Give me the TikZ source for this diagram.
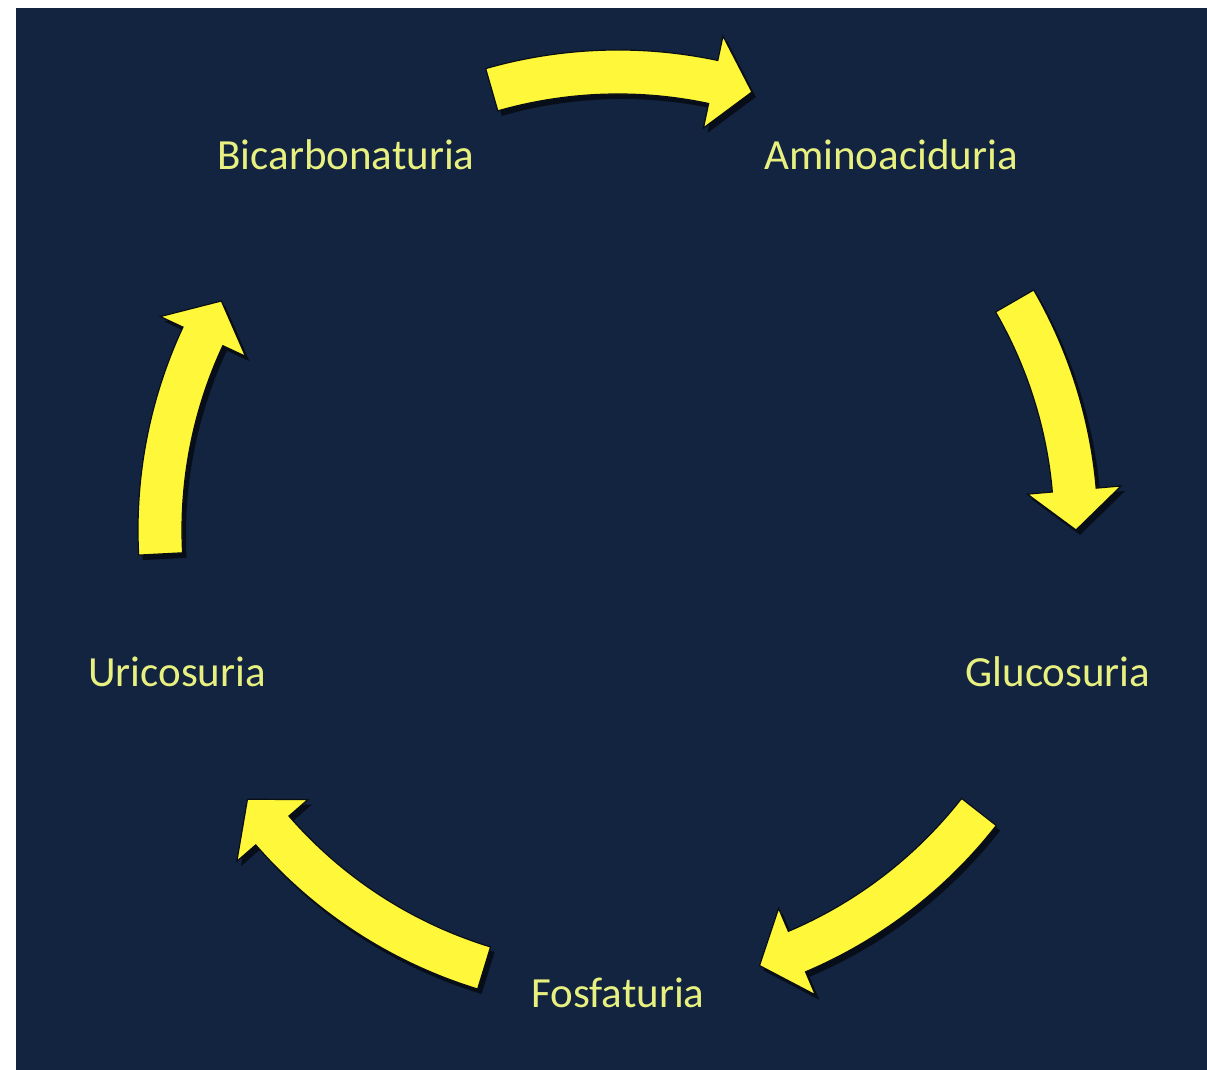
\documentclass[tikz,border=0pt]{standalone}
\usepackage{fontspec}
\setmainfont{Carlito}
\usepackage{tikz}
\usetikzlibrary{calc,shadows}
\definecolor{bgCol}{HTML}{12243F}
\definecolor{arrCol}{HTML}{FFF83A}
\definecolor{arrEdge}{HTML}{0A0E16}
\definecolor{txtCol}{HTML}{E8F080}
\tikzset{
  stage/.style={text=txtCol, font=\fontsize{43}{50}\selectfont, inner sep=0pt, anchor=center},
  cyc/.style={fill=arrCol, draw=arrEdge, line width=1.2pt, line join=miter,
        drop shadow={shadow xshift=4pt, shadow yshift=-5pt, opacity=0.6, fill=black}},
}
% curved block arrow round the centre, #1 tail angle, #2 tip angle (clockwise)
\newcommand{\cycarrow}[2]{%
  \pgfmathsetmacro{\headang}{#2+5}
  \path[cyc] (#1:480) arc[start angle=#1, end angle=\headang, radius=480]
    -- (\headang:505) -- (#2:458) -- (\headang:411) -- (\headang:436)
    arc[start angle=\headang, end angle=#1, radius=436] -- cycle;
}

\begin{document}
\begin{tikzpicture}[x=1pt, y=1pt]
  \useasboundingbox (0,0) rectangle (1207,1070);
  \fill[white] (0,0) rectangle (1207,1070);
  \fill[bgCol] (16,0) rectangle (1207,1062);
  \coordinate (ctr) at (618,540);
  % stages of the cycle
  \node[stage] (bic)   at (346,915) {Bicarbonaturia};
  \node[stage] (amino) at (891,915) {Aminoaciduria};
  \node[stage] (gluc)  at (1058,398) {Glucosuria};
  \node[stage] (fosf)  at (618,77)  {Fosfaturia};
  \node[stage] (uric)  at (177,398) {Uricosuria};
  % arrows between them
  \begin{scope}[shift={(ctr)}]
    \foreach \tl/\tp in {106/73, 30/0, -38/-72, -107/-144, 183/150}{
      \cycarrow{\tl}{\tp}
    }
  \end{scope}
\end{tikzpicture}
\end{document}
